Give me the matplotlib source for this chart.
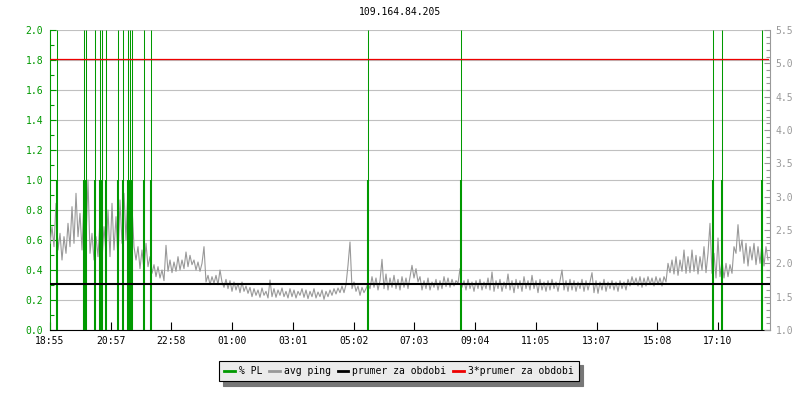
import matplotlib
matplotlib.use("Agg")
import matplotlib.pyplot as plt
from matplotlib.lines import Line2D
from matplotlib.ticker import MultipleLocator, FormatStrFormatter
import numpy as np

plt.rcParams['font.family'] = ['DejaVu Sans Mono']
plt.rcParams['font.size'] = 7

# data
# -----------------------------------------------------------------------------
title = "109.164.84.205"
tick_labels = ["18:55", "20:57", "22:58", "01:00", "03:01", "05:02",
               "07:03", "09:04", "11:05", "13:07", "15:08", "17:10"]
tick_step = 121.45          # minutes between labelled ticks
sample_step = 4             # minutes between ping samples

# avg ping (right axis), one value every 4 minutes from 18:55
ping = [
    2.30, 2.55, 2.25, 2.90, 2.20, 2.45, 2.05, 2.40, 2.15, 2.60, 2.25, 2.85, 2.30, 3.05, 2.40, 2.75, 2.20, 2.95, 2.35, 3.25,
    2.15, 2.45, 2.05, 2.40, 2.10, 2.65, 2.05, 2.55, 2.15, 2.80, 2.10, 2.90, 2.20, 2.70, 2.05, 2.95, 2.30, 3.05, 2.35, 3.15,
    2.30, 2.85, 2.25, 2.05, 2.25, 1.92, 2.20, 1.90, 2.30, 1.95, 2.10, 1.85, 1.98, 1.80, 1.95, 1.78, 1.90, 1.74, 2.27, 1.88,
    2.05, 1.86, 2.02, 1.88, 2.10, 1.90, 2.05, 1.92, 2.17, 1.95, 2.12, 1.98, 2.05, 1.90, 2.02, 1.88, 2.00, 2.25, 1.72, 1.82,
    1.68, 1.80, 1.70, 1.82, 1.68, 1.90, 1.72, 1.64, 1.76, 1.62, 1.74, 1.58, 1.72, 1.60, 1.70, 1.56, 1.72, 1.58, 1.66, 1.55,
    1.64, 1.50, 1.62, 1.52, 1.60, 1.49, 1.63, 1.52, 1.58, 1.48, 1.75, 1.50, 1.62, 1.49, 1.60, 1.52, 1.63, 1.50, 1.58, 1.48,
    1.62, 1.50, 1.60, 1.48, 1.58, 1.52, 1.62, 1.49, 1.60, 1.47, 1.58, 1.50, 1.62, 1.48, 1.57, 1.50, 1.60, 1.46, 1.58, 1.50,
    1.60, 1.52, 1.62, 1.54, 1.63, 1.56, 1.66, 1.56, 1.68, 1.97, 2.32, 1.62, 1.72, 1.58, 1.66, 1.52, 1.64, 1.56, 1.62, 1.70,
    1.62, 1.80, 1.64, 1.78, 1.60, 1.74, 2.06, 1.62, 1.84, 1.60, 1.78, 1.64, 1.82, 1.62, 1.76, 1.60, 1.80, 1.64, 1.78, 1.62,
    1.80, 1.97, 1.78, 1.92, 1.72, 1.80, 1.60, 1.74, 1.62, 1.78, 1.60, 1.72, 1.64, 1.76, 1.60, 1.74, 1.62, 1.80, 1.65, 1.78,
    1.64, 1.76, 1.66, 1.74, 1.70, 1.92, 1.64, 1.74, 1.60, 1.76, 1.62, 1.72, 1.58, 1.74, 1.62, 1.76, 1.60, 1.72, 1.62, 1.78,
    1.60, 1.87, 1.58, 1.74, 1.62, 1.76, 1.58, 1.72, 1.62, 1.84, 1.60, 1.74, 1.56, 1.76, 1.62, 1.74, 1.58, 1.80, 1.62, 1.74,
    1.60, 1.82, 1.62, 1.74, 1.56, 1.76, 1.60, 1.72, 1.58, 1.74, 1.60, 1.76, 1.62, 1.72, 1.58, 1.74, 1.90, 1.60, 1.74, 1.58,
    1.76, 1.60, 1.74, 1.58, 1.72, 1.62, 1.76, 1.58, 1.74, 1.60, 1.72, 1.86, 1.56, 1.74, 1.55, 1.72, 1.60, 1.76, 1.58, 1.72,
    1.62, 1.74, 1.60, 1.72, 1.58, 1.74, 1.62, 1.72, 1.60, 1.76, 1.66, 1.80, 1.68, 1.78, 1.66, 1.80, 1.64, 1.78, 1.66, 1.80,
    1.68, 1.78, 1.66, 1.80, 1.68, 1.78, 1.66, 1.80, 1.72, 2.00, 1.86, 2.05, 1.84, 2.10, 1.82, 2.05, 1.88, 2.20, 1.85, 2.10,
    1.86, 2.20, 1.88, 2.12, 1.84, 2.10, 1.90, 2.25, 1.86, 2.15, 2.60, 1.85, 2.15, 1.78, 2.38, 1.80, 2.05, 1.78, 2.00, 1.80,
    1.98, 1.85, 2.25, 2.15, 2.58, 2.18, 2.35, 2.00, 2.30, 1.96, 2.25, 2.05, 2.30, 1.98, 2.25, 2.00, 2.30, 1.96, 2.25, 2.05,
]
ping_mean = 1.69

# packet loss events (minutes from 18:55), value 1 and spike above the top
pl_minutes = [13, 68, 71, 90, 100, 104, 112, 136, 146, 155, 159, 163, 188, 201,
              635, 822, 1326, 1344, 1424]
pl_value = [1.0] * len(pl_minutes)
pl_peak = [2.0] * len(pl_minutes)

GREEN = '#009900'
GRAY = '#999999'
GRID = '#c0c0c0'

# kresleni
# -----------------------------------------------------------------------------
fig = plt.figure(figsize=(8, 4), dpi=100)
ax = fig.add_axes([50 / 800, 70 / 400, 720 / 800, 300 / 400])
ax2 = ax.twinx()

t = np.arange(len(ping)) * sample_step
ax2.plot(t, ping, color=GRAY, lw=0.8, zorder=2)

ax2.vlines(pl_minutes, 0, pl_value, color=GREEN, lw=1.5, transform=ax.transData, zorder=3)
ax2.vlines(pl_minutes, pl_value, pl_peak, color=GREEN, lw=0.75, transform=ax.transData, zorder=3)

ax2.axhline(ping_mean, color='black', lw=1.5, zorder=4)
ax2.plot([0, t[-1]], [3 * ping_mean] * 2, color='#ee0000', lw=0.9, zorder=4)

ax.set_xlim(0, 1440)
ax.set_ylim(0, 2.0)
ax2.set_ylim(1.0, 5.5)

ax.set_xticks(np.arange(len(tick_labels)) * tick_step)
ax.set_xticklabels(tick_labels)
ax.yaxis.set_major_locator(MultipleLocator(0.2))
ax.yaxis.set_minor_locator(MultipleLocator(0.1))
ax.yaxis.set_major_formatter(FormatStrFormatter('%.1f'))
ax2.yaxis.set_major_locator(MultipleLocator(0.5))
ax2.yaxis.set_minor_locator(MultipleLocator(0.1))
ax2.yaxis.set_major_formatter(FormatStrFormatter('%.1f'))

ax.grid(axis='y', color=GRID, lw=0.8)
ax.set_axisbelow(True)

ax.tick_params(axis='y', which='both', direction='in', colors=GREEN, pad=5)
ax.tick_params(axis='y', which='major', length=4, width=0.8)
ax.tick_params(axis='y', which='minor', length=3, width=0.8)
ax.tick_params(axis='x', direction='in', length=6, width=0.8, pad=4, colors='black')
ax2.tick_params(axis='y', which='both', direction='in', colors=GRAY, pad=4)
ax2.tick_params(axis='y', which='major', length=4, width=0.8)
ax2.tick_params(axis='y', which='minor', length=3, width=0.8)

for s in ['top', 'right']:
    ax.spines[s].set_visible(False)
ax.spines['left'].set_color(GREEN)
ax.spines['bottom'].set_color('black')
for s in ['top', 'left', 'bottom']:
    ax2.spines[s].set_visible(False)
ax2.spines['right'].set_color(GRAY)
for s in ax.spines.values():
    s.set_linewidth(0.8)
ax2.spines['right'].set_linewidth(0.8)

fig.text(0.5, 1 - 12 / 400, title, ha='center', va='center', fontsize=7)

handles = [Line2D([], [], color=GREEN, lw=2),
           Line2D([], [], color=GRAY, lw=2),
           Line2D([], [], color='black', lw=2),
           Line2D([], [], color='#ee0000', lw=2)]
names = ['% PL', 'avg ping', 'prumer za obdobi', '3*prumer za obdobi']
leg = fig.legend(handles, names, loc='center', bbox_to_anchor=(399 / 800, 1 - 371 / 400),
                 ncol=4, fontsize=7, frameon=True, fancybox=False,
                 shadow={'ox': 3, 'oy': -3, 'facecolor': '#777777', 'edgecolor': '#777777', 'alpha': 1},
                 handlelength=1.1, handletextpad=0.4, columnspacing=0.7, borderpad=0.55)
leg.get_frame().set_facecolor('#ebebeb')
leg.get_frame().set_edgecolor('black')
leg.get_frame().set_linewidth(0.8)
leg.get_frame().set_alpha(1)

fig.savefig('out.png', dpi=100)
